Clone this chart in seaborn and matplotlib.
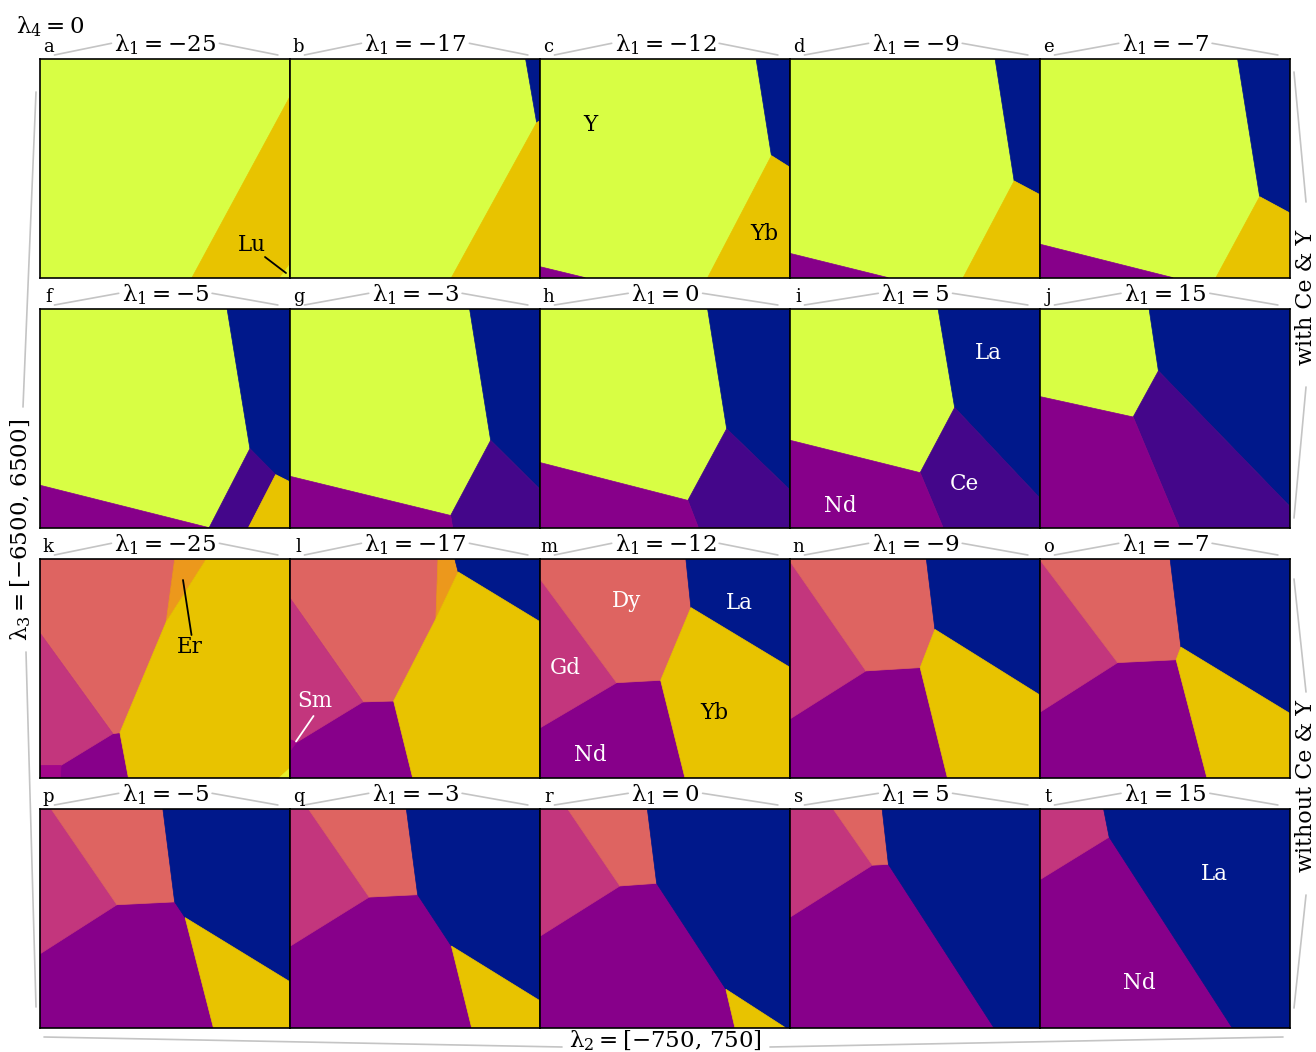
import matplotlib
matplotlib.use("Agg")
import matplotlib.pyplot as plt
import seaborn as sns

sns.set_theme(style="white")
plt.rcParams["font.family"] = ["DejaVu Serif", "DejaVu Sans"]
plt.rcParams["mathtext.fontset"] = "dejavuserif"
plt.rcParams["text.color"] = "black"

# ---------------- data ----------------
panel_letters = list("abcdefghijklmnopqrst")
lambda1_values = [-25, -17, -12, -9, -7, -5, -3, 0, 5, 15]
lambda2_range = [-750, 750]
lambda3_range = [-6500, 6500]

element_colors = {
    "Y": "#d8fe44", "Yb": "#e8c300", "Lu": "#e6ef2e", "La": "#00188b",
    "Nd": "#87008a", "Ce": "#44068a", "Dy": "#de6461", "Gd": "#c3367d",
    "Er": "#ec981c", "Sm": "#a3078a",
}

# phase regions: (background element, [(element, [(λ2 frac, λ3 frac), ...]), ...])
# ---- with Ce & Y ----
panel_a = ("Y", [("Yb", [(0.604, 0), (1, 0), (1, 0.837)]),
                 ("Lu", [(0.956, 0), (1, 0), (1, 0.067)])])
panel_b = ("Y", [("La", [(0.941, 1), (1, 1), (1, 0.72), (0.985, 0.71)]),
                 ("Yb", [(0.644, 0), (1, 0), (1, 0.72), (0.985, 0.71)])])
panel_c = ("Y", [("La", [(0.863, 1), (1, 1), (1, 0.504), (0.924, 0.559)]),
                 ("Yb", [(0.924, 0.559), (1, 0.504), (1, 0), (0.669, 0)]),
                 ("Nd", [(0, 0.05), (0.18, 0), (0, 0)])])
panel_d = ("Y", [("La", [(0.819, 1), (1, 1), (1, 0.379), (0.895, 0.443)]),
                 ("Yb", [(0.895, 0.443), (1, 0.379), (1, 0), (0.691, 0)]),
                 ("Nd", [(0, 0.111), (0.392, 0), (0, 0)])])
panel_e = ("Y", [("La", [(0.789, 1), (1, 1), (1, 0.295), (0.877, 0.371)]),
                 ("Yb", [(0.877, 0.371), (1, 0.295), (1, 0), (0.702, 0)]),
                 ("Nd", [(0, 0.153), (0.531, 0), (0, 0)])])
panel_f = ("Y", [("La", [(0.747, 1), (1, 1), (1, 0.209), (0.941, 0.243), (0.838, 0.362)]),
                 ("Ce", [(0.838, 0.362), (0.941, 0.243), (0.832, 0), (0.675, 0)]),
                 ("Yb", [(0.832, 0), (1, 0), (1, 0.209), (0.941, 0.243)]),
                 ("Nd", [(0, 0.194), (0.675, 0), (0, 0)])])
panel_g = ("Y", [("La", [(0.717, 1), (1, 1), (1, 0.174), (0.801, 0.4)]),
                 ("Ce", [(0.801, 0.4), (1, 0.174), (1, 0), (0.649, 0), (0.641, 0.056)]),
                 ("Nd", [(0, 0.235), (0.641, 0.056), (0.649, 0), (0, 0)])])
panel_h = ("Y", [("La", [(0.669, 1), (1, 1), (1, 0.171), (0.745, 0.453)]),
                 ("Ce", [(0.745, 0.453), (1, 0.171), (1, 0), (0.632, 0), (0.59, 0.125)]),
                 ("Nd", [(0, 0.298), (0.59, 0.125), (0.632, 0), (0, 0)])])
panel_i = ("Y", [("La", [(0.591, 1), (1, 1), (1, 0.133), (0.657, 0.55)]),
                 ("Ce", [(0.657, 0.55), (1, 0.133), (1, 0), (0.611, 0), (0.519, 0.252)]),
                 ("Nd", [(0, 0.4), (0.519, 0.252), (0.611, 0), (0, 0)])])
panel_j = ("Y", [("La", [(0.435, 1), (1, 1), (1, 0.095), (0.472, 0.718)]),
                 ("Ce", [(0.472, 0.718), (1, 0.095), (1, 0), (0.556, 0), (0.371, 0.507)]),
                 ("Nd", [(0, 0.6), (0.371, 0.507), (0.556, 0), (0, 0)])])
# ---- without Ce & Y ----
panel_k = ("Nd", [("Dy", [(0, 1), (0.537, 1), (0.503, 0.713), (0.318, 0.206), (0.29, 0.2015), (0, 0.66)]),
                  ("Er", [(0.537, 1), (0.663, 1), (0.503, 0.713)]),
                  ("Yb", [(0.503, 0.713), (0.663, 1), (1, 1), (1, 0), (0.352, 0), (0.318, 0.206)]),
                  ("Gd", [(0, 0.66), (0.29, 0.2015), (0.0825, 0.0565), (0, 0.056)]),
                  ("Sm", [(0, 0.056), (0.0825, 0.0565), (0.08, 0), (0, 0)]),
                  ("Lu", [(0.95, 0), (1, 0), (1, 0.05)])])
panel_l = ("Nd", [("Dy", [(0, 1), (0.590, 1), (0.582, 0.728), (0.413, 0.351), (0.290, 0.347), (0, 0.82)]),
                  ("Er", [(0.590, 1), (0.658, 1), (0.671, 0.942), (0.582, 0.728)]),
                  ("La", [(0.658, 1), (1, 1), (1, 0.713), (0.671, 0.942)]),
                  ("Yb", [(0.671, 0.942), (1, 0.713), (1, 0), (0.489, 0), (0.413, 0.351), (0.582, 0.728)]),
                  ("Gd", [(0, 0.82), (0.290, 0.347), (0.025, 0.162), (0, 0.174)]),
                  ("Sm", [(0, 0.174), (0.025, 0.162), (0, 0.125)])])
panel_m = ("Nd", [("Gd", [(0, 0.908), (0.305, 0.435), (0, 0.229)]),
                  ("Dy", [(0, 1), (0.582, 1), (0.602, 0.779), (0.481, 0.446), (0.305, 0.435), (0, 0.908)]),
                  ("La", [(0.582, 1), (1, 1), (1, 0.504), (0.602, 0.779)]),
                  ("Yb", [(0.602, 0.779), (1, 0.504), (1, 0), (0.578, 0), (0.481, 0.446)])])
panel_n = ("Nd", [("Gd", [(0, 0.988), (0.302, 0.489), (0, 0.270)]),
                  ("Dy", [(0, 1), (0.544, 1), (0.578, 0.679), (0.519, 0.504), (0.302, 0.489), (0, 0.988)]),
                  ("La", [(0.544, 1), (1, 1), (1, 0.377), (0.578, 0.679)]),
                  ("Yb", [(0.578, 0.679), (1, 0.377), (1, 0), (0.628, 0), (0.519, 0.504)])])
panel_o = ("Nd", [("Gd", [(0, 0.995), (0.309, 0.527), (0, 0.301)]),
                  ("Dy", [(0, 1), (0.519, 1), (0.562, 0.598), (0.543, 0.540), (0.309, 0.527), (0, 0.995)]),
                  ("La", [(0.519, 1), (1, 1), (1, 0.293), (0.562, 0.598)]),
                  ("Yb", [(0.562, 0.598), (1, 0.293), (1, 0), (0.666, 0), (0.543, 0.540)])])
panel_p = ("Nd", [("Gd", [(0, 1), (0.044, 1), (0.306, 0.563), (0, 0.339)]),
                  ("Dy", [(0.044, 1), (0.490, 1), (0.537, 0.576), (0.306, 0.563)]),
                  ("La", [(0.490, 1), (1, 1), (1, 0.209), (0.579, 0.504), (0.537, 0.576)]),
                  ("Yb", [(0.579, 0.504), (1, 0.209), (1, 0), (0.692, 0)])])
panel_q = ("Nd", [("Gd", [(0, 1), (0.073, 1), (0.315, 0.598), (0, 0.374)]),
                  ("Dy", [(0.073, 1), (0.464, 1), (0.509, 0.609), (0.315, 0.598)]),
                  ("La", [(0.464, 1), (1, 1), (1, 0.122), (0.644, 0.374), (0.509, 0.609)]),
                  ("Yb", [(0.644, 0.374), (1, 0.122), (1, 0), (0.725, 0)])])
panel_r = ("Nd", [("Gd", [(0, 1), (0.110, 1), (0.318, 0.649), (0, 0.42)]),
                  ("Dy", [(0.110, 1), (0.428, 1), (0.465, 0.661), (0.318, 0.649)]),
                  ("La", [(0.428, 1), (1, 1), (1, 0), (0.98, 0), (0.742, 0.176), (0.465, 0.661)]),
                  ("Yb", [(0.742, 0.176), (0.98, 0), (0.778, 0)])])
panel_s = ("Nd", [("Gd", [(0, 1), (0.172, 1), (0.328, 0.744), (0, 0.507)]),
                  ("Dy", [(0.172, 1), (0.367, 1), (0.392, 0.748), (0.328, 0.744)]),
                  ("La", [(0.367, 1), (1, 1), (1, 0), (0.814, 0), (0.392, 0.748)])])
panel_t = ("Nd", [("Gd", [(0, 1), (0.253, 1), (0.275, 0.873), (0, 0.679)]),
                  ("La", [(0.253, 1), (1, 1), (1, 0), (0.767, 0), (0.275, 0.873)])])

panels = [panel_a, panel_b, panel_c, panel_d, panel_e, panel_f, panel_g, panel_h, panel_i, panel_j,
          panel_k, panel_l, panel_m, panel_n, panel_o, panel_p, panel_q, panel_r, panel_s, panel_t]

# region labels: (text, x px, y px, colour)
region_labels = [
    ("Lu", 252, 245, "black"), ("Y", 590, 125, "black"), ("Yb", 764, 234, "black"),
    ("La", 988, 353, "white"), ("Ce", 964, 484, "white"), ("Nd", 840, 506, "white"),
    ("Er", 190, 647, "black"), ("Sm", 315, 701, "white"), ("Dy", 627, 601, "white"),
    ("La", 739, 603, "white"), ("Gd", 565, 668, "white"), ("Yb", 714, 713, "black"),
    ("Nd", 590, 755, "white"), ("La", 1214, 874, "white"), ("Nd", 1139, 983, "white"),
]
pointer_lines = [((265, 257), (286, 273), "black"), ((183, 580), (191.5, 635), "black"),
                 ((313.5, 716), (296, 741.5), "white")]


def lam(i, rest):
    return r"$\mathregular{\lambda_{%d} = %s}$" % (i, rest)


def num(v):
    return ("{-}" if v < 0 else "") + str(abs(v))


# ---------------- figure ----------------
W, H = 1316, 1052
fig = plt.figure(figsize=(W / 100, H / 100), dpi=100)
fig.patch.set_facecolor("white")

PW, PH = 250.0, 218.4
X0, Y0 = 40.4, 59.3
l2lo, l2hi = lambda2_range
l3lo, l3hi = lambda3_range

panel_boxes = []
for idx, (base, regions) in enumerate(panels):
    row, col = divmod(idx, 5)
    left = X0 + PW * col
    top = Y0 + 250 * row
    panel_boxes.append((left, top))
    ax = fig.add_axes([left / W, 1 - (top + PH) / H, PW / W, PH / H])
    ax.set_facecolor(element_colors[base])
    for el, verts in regions:
        xs = [l2lo + fx * (l2hi - l2lo) for fx, fy in verts]
        ys = [l3lo + fy * (l3hi - l3lo) for fx, fy in verts]
        c = element_colors[el]
        ax.fill(xs, ys, facecolor=c, edgecolor=c, linewidth=0.5)
    ax.set_xlim(l2lo, l2hi)
    ax.set_ylim(l3lo, l3hi)
    ax.set_xticks([])
    ax.set_yticks([])
    for sp in ax.spines.values():
        sp.set_visible(True)
        sp.set_color("black")
        sp.set_linewidth(1.2)

ov = fig.add_axes([0, 0, 1, 1])
ov.set_xlim(0, W)
ov.set_ylim(H, 0)
ov.axis("off")
ov.patch.set_alpha(0)

grey = "#c4c4c4"
renderer = fig.canvas.get_renderer()
for idx, (left, top) in enumerate(panel_boxes):
    l1 = lambda1_values[idx % 10]
    base_y = top - 7.8
    ov.text(left + 8, base_y, panel_letters[idx], ha="center", va="baseline", fontsize=13)
    t = ov.text(left + 125, base_y, lam(1, num(l1)), ha="center", va="baseline", fontsize=16.5)
    bb = t.get_window_extent(renderer)
    tx0, tx1 = bb.x0, bb.x1
    ov.plot([left + 14, tx0 - 3], [top - 4.3, top - 16], color=grey, lw=1.2, clip_on=False)
    ov.plot([tx1 + 3, left + 237.5], [top - 16, top - 4.3], color=grey, lw=1.2, clip_on=False)

for txt, x, y, c in region_labels:
    ov.text(x, y, txt, ha="center", va="center", fontsize=15.5, color=c)
for (xa, ya), (xb, yb), c in pointer_lines:
    ov.plot([xa, xb], [ya, yb], color=c, lw=1.3)

ov.text(16, 33, lam(4, "0"), ha="left", va="baseline", fontsize=16.5)
ov.text(21, 530, lam(3, r"[%s,\,%s]" % (num(lambda3_range[0]), num(lambda3_range[1]))),
        rotation=90, ha="center", va="center", fontsize=16.5)
ov.text(665, 1041, lam(2, r"[%s,\,%s]" % (num(lambda2_range[0]), num(lambda2_range[1]))),
        ha="center", va="center", fontsize=16.5)
ov.text(1306, 297, "with Ce & Y", rotation=90, ha="center", va="center", fontsize=16)
ov.text(1306, 786, "without Ce & Y", rotation=90, ha="center", va="center", fontsize=16)

for (xa, ya), (xb, yb) in [((36, 92), (23, 407)), ((26, 652), (36, 1007)),
                           ((44, 1037), (562, 1047)), ((770, 1047), (1283, 1037)),
                           ((1294, 72), (1306, 202)), ((1306, 387), (1294, 518)),
                           ((1294, 579), (1306, 692)), ((1306, 895), (1294, 1008))]:
    ov.plot([xa, xb], [ya, yb], color=grey, lw=1.2, clip_on=False)

fig.savefig("out.png", dpi=100)
